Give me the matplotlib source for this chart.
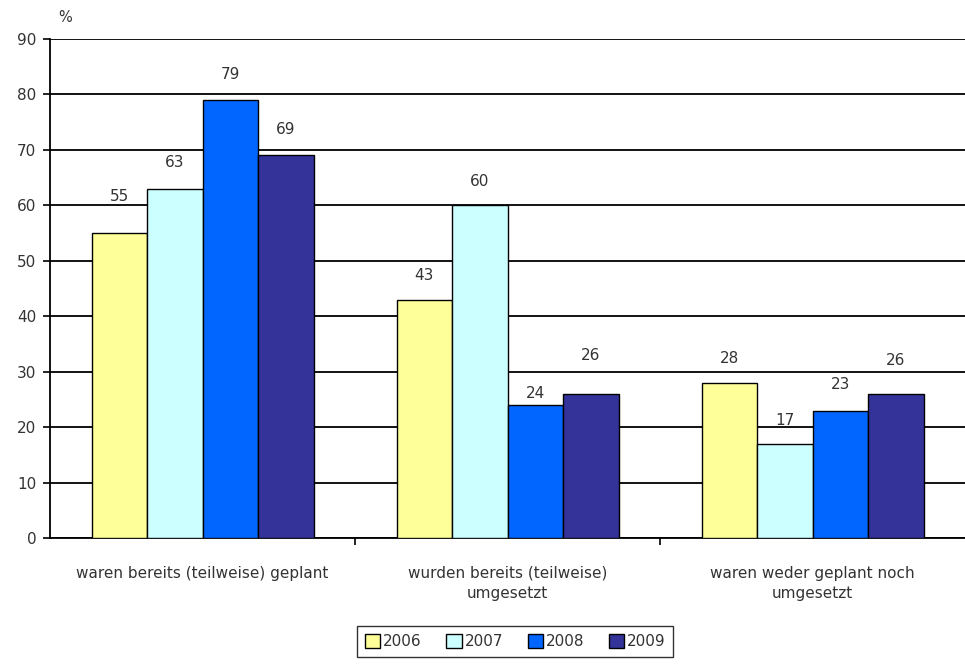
import numpy as np
import matplotlib
matplotlib.use("Agg")
import matplotlib.pyplot as plt

# data
categories = ["waren bereits (teilweise) geplant",
              "wurden bereits (teilweise)\numgesetzt",
              "waren weder geplant noch\numgesetzt"]
years = ["2006", "2007", "2008", "2009"]
v2006 = [55, 43, 28]
v2007 = [63, 60, 17]
v2008 = [79, 24, 23]
v2009 = [69, 26, 26]
series = [v2006, v2007, v2008, v2009]
colors = ["#FFFF99", "#CCFFFF", "#0066FF", "#333399"]

# label distance above bar top (pixels), as placed in the original
label_gap = [[37, 24, 24], [26, 24, 23], [25, 12, 26], [26, 38, 33]]

plt.rcParams['font.family'] = ['DejaVu Sans']

fig = plt.figure(figsize=(9.65, 6.71), dpi=100)
ax = fig.add_axes([0.052, 0.198, 0.948, 0.744])

x = np.arange(len(categories))
w = 0.182
for i, (vals, col) in enumerate(zip(series, colors)):
    pos = x + (i - 1.5) * w
    bars = ax.bar(pos, vals, width=w, color=col, edgecolor="black",
                  linewidth=1.0, label=years[i], zorder=3)
    for b, v, g in zip(bars, vals, label_gap[i]):
        ax.annotate(str(v), (b.get_x() + b.get_width() / 2, v),
                    xytext=(0, g * 0.72), textcoords="offset points",
                    ha="center", va="center", fontsize=11, color="#333333",
                    zorder=4)

# axes styling
ax.set_xlim(-0.5, 2.5)
ax.set_ylim(0, 90)
ax.set_yticks(range(0, 91, 10))
ax.yaxis.grid(True, color="black", linewidth=1.3, zorder=0)
ax.set_axisbelow(True)
for s in ["top", "right"]:
    ax.spines[s].set_visible(False)
ax.spines["left"].set_linewidth(1.3)
ax.spines["bottom"].set_linewidth(1.3)
ax.tick_params(axis="y", length=5, width=1.2, labelsize=11,
               labelcolor="#333333", pad=5)

# category labels centred, separator ticks between groups
ax.set_xticks([0.5, 1.5])
ax.set_xticklabels([])
ax.tick_params(axis="x", length=5, width=1.2)
for xi, lab in zip(x, categories):
    ax.text(xi, -5.0, lab, ha="center", va="top", fontsize=11,
            color="#333333", linespacing=1.45)

fig.text(0.060, 0.985, "%", ha="left", va="top", fontsize=10.5,
         color="#333333")

leg = fig.legend(loc="center", bbox_to_anchor=(0.534, 0.044), ncol=4,
                 fontsize=11, frameon=True, fancybox=False,
                 edgecolor="black", handlelength=1.0, handleheight=1.0,
                 handletextpad=0.2, columnspacing=1.6, borderpad=0.5)
leg.get_frame().set_linewidth(1.0)
for t in leg.get_texts():
    t.set_color("#333333")

fig.savefig("out.png", dpi=100)
